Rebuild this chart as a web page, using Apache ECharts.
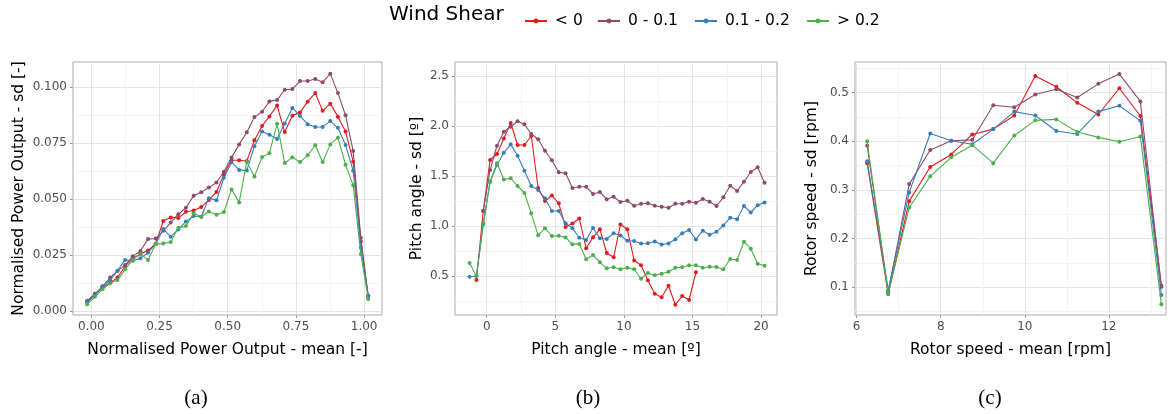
<!DOCTYPE html>
<html>
<head>
<meta charset="utf-8">
<script src="https://cdn.jsdelivr.net/npm/echarts@6/dist/echarts.min.js"></script>
<style>
html,body{margin:0;padding:0;background:#fff;}
#chart{width:1174px;height:414px;}
</style>
</head>
<body>
<div id="chart"></div>
<script>
// ---------- DATA ----------
const seriesNames = ['< 0', '0 - 0.1', '0.1 - 0.2', '> 0.2'];

// Panel (a): Normalised Power Output
const aX = [-0.015,0.013,0.041,0.069,0.096,0.124,0.152,0.180,0.208,0.236,0.264,0.291,0.319,0.347,0.375,0.403,0.431,0.459,0.486,0.514,0.542,0.570,0.598,0.626,0.653,0.681,0.709,0.737,0.765,0.793,0.821,0.848,0.876,0.904,0.932,0.960,0.988,1.015];
const aNeg  = [0.0042,0.0077,0.0105,0.0125,0.0150,0.0200,0.0235,0.0255,0.0270,0.0300,0.0402,0.0418,0.0415,0.0443,0.0449,0.0464,0.0496,0.0531,0.0610,0.0673,0.0673,0.0670,0.0762,0.0826,0.0869,0.0918,0.0799,0.0872,0.0887,0.0935,0.0973,0.0894,0.0926,0.0868,0.0802,0.0667,0.0310,0.0063];
const aLow  = [0.0046,0.0074,0.0109,0.0149,0.0179,0.0205,0.0244,0.0268,0.0321,0.0324,0.0358,0.0395,0.0432,0.0461,0.0515,0.0530,0.0551,0.0574,0.0622,0.0685,0.0744,0.0798,0.0866,0.0890,0.0936,0.0942,0.0988,0.0991,0.1027,0.1027,0.1036,0.1021,0.1060,0.0973,0.0874,0.0714,0.0327,0.0068];
const aMid  = [0.0039,0.0071,0.0110,0.0136,0.0180,0.0228,0.0224,0.0235,0.0260,0.0299,0.0366,0.0332,0.0364,0.0400,0.0424,0.0421,0.0504,0.0494,0.0595,0.0664,0.0630,0.0627,0.0736,0.0802,0.0787,0.0768,0.0837,0.0907,0.0871,0.0834,0.0822,0.0822,0.0848,0.0818,0.0741,0.0626,0.0284,0.0069];
const aHigh = [0.0030,0.0063,0.0097,0.0124,0.0138,0.0186,0.0228,0.0255,0.0228,0.0299,0.0301,0.0308,0.0372,0.0379,0.0436,0.0421,0.0444,0.0430,0.0442,0.0543,0.0485,0.0667,0.0601,0.0688,0.0705,0.0836,0.0661,0.0686,0.0665,0.0695,0.0740,0.0665,0.0744,0.0774,0.0653,0.0561,0.0254,0.0054];

// Panel (b): Pitch angle
const bX = [-1.25,-0.75,-0.25,0.25,0.75,1.25,1.75,2.25,2.75,3.25,3.75,4.25,4.75,5.25,5.75,6.25,6.75,7.25,7.75,8.25,8.75,9.25,9.75,10.25,10.75,11.25,11.75,12.25,12.75,13.25,13.75,14.25,14.75,15.25,15.75,16.25,16.75,17.25,17.75,18.25,18.75,19.25,19.75,20.25];
const bNeg  = [null,0.46,1.15,1.66,1.72,1.875,2.03,1.81,1.81,1.90,1.38,1.25,1.305,1.227,0.99,1.025,1.075,0.777,0.887,0.967,0.73,0.687,1.015,0.967,0.655,0.607,0.457,0.323,0.287,0.403,0.213,0.30,0.26,0.537,null,null,null,null,null,null,null,null,null,null];
const bLow  = [null,null,1.15,1.56,1.803,1.943,1.993,2.047,2.017,1.92,1.867,1.753,1.657,1.537,1.527,1.38,1.393,1.393,1.32,1.34,1.267,1.293,1.24,1.253,1.203,1.223,1.227,1.203,1.193,1.183,1.223,1.223,1.243,1.233,1.27,1.243,1.2,1.287,1.403,1.35,1.443,1.54,1.587,1.433];
const bMid  = [0.493,0.5,1.017,1.443,1.61,1.733,1.817,1.703,1.553,1.40,1.36,1.277,1.15,1.15,1.027,0.977,0.883,0.86,0.98,0.877,0.87,0.927,0.905,0.852,0.85,0.825,0.827,0.845,0.815,0.825,0.868,0.927,0.96,0.865,0.953,0.913,0.942,1.005,1.083,1.067,1.2,1.135,1.208,1.235];
const bHigh = [0.63,0.5,1.027,1.445,1.627,1.465,1.477,1.40,1.33,1.127,0.907,0.977,0.90,0.903,0.886,0.817,0.821,0.668,0.71,0.637,0.577,0.587,0.567,0.583,0.567,0.473,0.53,0.507,0.523,0.543,0.583,0.587,0.607,0.607,0.583,0.593,0.59,0.567,0.67,0.66,0.843,0.773,0.623,0.603];

// Panel (c): Rotor speed
const cX = [6.25,6.75,7.25,7.75,8.25,8.75,9.25,9.75,10.25,10.75,11.25,11.75,12.25,12.75,13.25];
const cNeg  = [0.355,0.086,0.277,0.347,0.373,0.414,0.425,0.453,0.534,0.512,0.479,0.455,0.509,0.452,0.103];
const cLow  = [0.391,0.090,0.312,0.382,0.401,0.403,0.474,0.470,0.496,0.507,0.490,0.518,0.538,0.482,0.101];
const cMid  = [0.359,0.094,0.295,0.416,0.401,0.394,0.425,0.461,0.453,0.421,0.415,0.461,0.473,0.442,0.084];
const cHigh = [0.400,0.087,0.264,0.328,0.367,0.392,0.355,0.412,0.443,0.445,0.419,0.408,0.399,0.410,0.065];

// Tick values (major) and minor grid values
const aXTicks = [0, 0.25, 0.5, 0.75, 1.0];
const aXMinor = [0.125, 0.375, 0.625, 0.875];
const aYTicks = [0, 0.025, 0.05, 0.075, 0.1];
const aYMinor = [0.0125, 0.0375, 0.0625, 0.0875];
const bXTicks = [0, 5, 10, 15, 20];
const bXMinor = [2.5, 7.5, 12.5, 17.5];
const bYTicks = [0.5, 1.0, 1.5, 2.0, 2.5];
const bYMinor = [0.25, 0.75, 1.25, 1.75, 2.25];
const cXTicks = [6, 8, 10, 12];
const cXMinor = [7, 9, 11, 13];
const cYTicks = [0.1, 0.2, 0.3, 0.4, 0.5];
const cYMinor = [0.05, 0.15, 0.25, 0.35, 0.45, 0.55];

// ---------- STYLE ----------
const colors = ['#E41A1C', '#8C4B6E', '#377EB8', '#4DAF4A'];
const SANS = "'DejaVu Sans', 'Liberation Sans', sans-serif";
const MAJOR = '#e4e4e4', MINOR = '#f3f3f3';

const grids = [
  {left: 73,  top: 62, width: 309, height: 253},
  {left: 455, top: 62, width: 322, height: 253},
  {left: 855, top: 62, width: 311, height: 253}
].map(g => Object.assign(g, {show: true, borderColor: '#ababab', borderWidth: 1, backgroundColor: '#fff', containLabel: false}));

function gridAxis(gi, min, max, majors, minors, isX) {
  const vals = majors.concat(minors).filter(v => v >= min && v <= max).sort((p, q) => p - q);
  const cols = vals.map(v => majors.indexOf(v) >= 0 ? MAJOR : MINOR);
  return {
    type: 'value', gridIndex: gi, min: min, max: max,
    position: isX ? 'bottom' : 'left',
    axisLine: {show: false, onZero: false}, axisLabel: {show: false},
    axisTick: {show: false, customValues: vals},
    splitLine: {show: true, lineStyle: {color: cols, width: 1}}
  };
}
function labelAxis(gi, min, max, majors, fmt, name, nameGap, isX) {
  return {
    type: 'value', gridIndex: gi, min: min, max: max,
    position: isX ? 'bottom' : 'left',
    axisLine: {show: false, onZero: false},
    axisTick: {show: true, length: 3, lineStyle: {color: '#9a9a9a', width: 1}, customValues: majors},
    axisLabel: {show: true, customValues: majors, formatter: fmt, color: '#4d4d4d',
                fontFamily: SANS, fontSize: 12, margin: 6},
    splitLine: {show: false},
    name: name, nameLocation: 'middle', nameGap: nameGap,
    nameTextStyle: {fontFamily: SANS, fontSize: 15.5, color: '#000'}
  };
}

const xAxes = [
  gridAxis(0, -0.0671, 1.0656, aXTicks, aXMinor, true),
  labelAxis(0, -0.0671, 1.0656, aXTicks, v => v.toFixed(2), 'Normalised Power Output - mean [-]', 27, true),
  gridAxis(1, -2.31, 21.16, bXTicks, bXMinor, true),
  labelAxis(1, -2.31, 21.16, bXTicks, v => String(Math.round(v)), 'Pitch angle - mean [º]', 27, true),
  gridAxis(2, 5.96, 13.36, cXTicks, cXMinor, true),
  labelAxis(2, 5.96, 13.36, cXTicks, v => String(Math.round(v)), 'Rotor speed - mean [rpm]', 27, true)
];
const yAxes = [
  gridAxis(0, -0.0018, 0.1112, aYTicks, aYMinor, false),
  labelAxis(0, -0.0018, 0.1112, aYTicks, v => v.toFixed(3), 'Normalised Power Output - sd [-]', 46, false),
  gridAxis(1, 0.11, 2.64, bYTicks, bYMinor, false),
  labelAxis(1, 0.11, 2.64, bYTicks, v => v.toFixed(1), 'Pitch angle - sd [º]', 30, false),
  gridAxis(2, 0.0431, 0.5629, cYTicks, cYMinor, false),
  labelAxis(2, 0.0431, 0.5629, cYTicks, v => v.toFixed(1), 'Rotor speed - sd [rpm]', 35, false)
];

const panels = [
  {x: aX, ys: [aNeg, aLow, aMid, aHigh], xi: 1, yi: 1},
  {x: bX, ys: [bNeg, bLow, bMid, bHigh], xi: 3, yi: 3},
  {x: cX, ys: [cNeg, cLow, cMid, cHigh], xi: 5, yi: 5}
];
const series = [];
panels.forEach(p => {
  p.ys.forEach((ys, si) => {
    series.push({
      type: 'line', name: seriesNames[si],
      xAxisIndex: p.xi, yAxisIndex: p.yi,
      data: p.x.map((x, i) => [x, ys[i]]).filter(d => d[1] != null),
      symbol: 'circle', symbolSize: 4, showSymbol: true,
      lineStyle: {color: colors[si], width: 1.1},
      itemStyle: {color: colors[si]},
      z: 3 + si, animation: false, silent: true
    });
  });
});

const legendLefts = [519, 592, 689, 801];
const legends = seriesNames.map((n, i) => ({
  data: [n], left: legendLefts[i], top: 8,
  itemWidth: 22, itemHeight: 6, itemGap: 0,
  textStyle: {fontFamily: SANS, fontSize: 15.5, color: '#000', padding: [0, 0, 0, 3]},
  selectedMode: false
}));

const option = {
  animation: false,
  color: colors,
  grid: grids,
  xAxis: xAxes,
  yAxis: yAxes,
  series: series,
  legend: legends,
  graphic: [
    {type: 'text', left: 389, top: 5, style: {text: 'Wind Shear', font: "20px 'DejaVu Sans'", fill: '#000'}},
    {type: 'text', x: 196, y: 398, style: {text: '(a)', font: "21px 'Liberation Serif'", fill: '#000', textAlign: 'center', textVerticalAlign: 'middle'}},
    {type: 'text', x: 588, y: 398, style: {text: '(b)', font: "21px 'Liberation Serif'", fill: '#000', textAlign: 'center', textVerticalAlign: 'middle'}},
    {type: 'text', x: 990, y: 398, style: {text: '(c)', font: "21px 'Liberation Serif'", fill: '#000', textAlign: 'center', textVerticalAlign: 'middle'}}
  ]
};
const chart = echarts.init(document.getElementById('chart'), null, {renderer: 'canvas'});
chart.setOption(option);
</script>
</body>
</html>
